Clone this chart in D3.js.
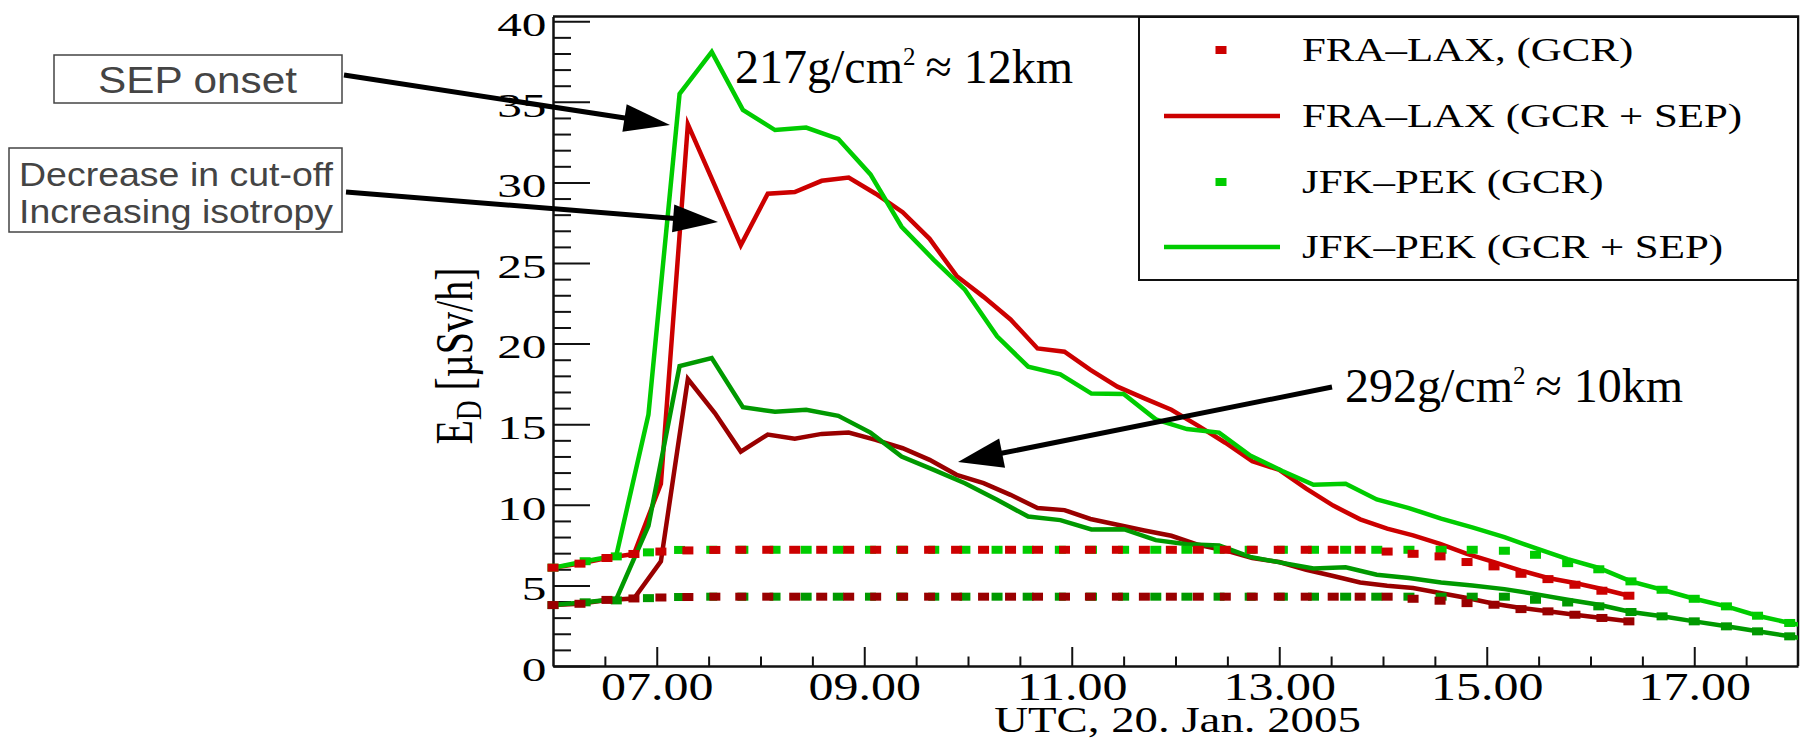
<!DOCTYPE html>
<html><head><meta charset="utf-8">
<script src="https://cdn.jsdelivr.net/npm/d3@7/dist/d3.min.js"></script>
<style>html,body{margin:0;padding:0;background:#fff;} svg{display:block;}</style>
</head><body>
<script>
// ---------------- DATA ----------------
const fraTimes = [6.00, 6.26, 6.52, 6.78, 7.04, 7.30, 7.56, 7.81, 8.07, 8.33, 8.59, 8.85, 9.11, 9.37, 9.63, 9.89, 10.15, 10.41, 10.67, 10.93, 11.18, 11.44, 11.70, 11.96, 12.22, 12.48, 12.74, 13.00, 13.26, 13.52, 13.78, 14.04, 14.29, 14.55, 14.81, 15.07, 15.33, 15.59, 15.85, 16.11, 16.37];
const fraGcr217 = [6.1, 6.35, 6.7, 6.95, 7.1, 7.17, 7.2, 7.21, 7.21, 7.21, 7.21, 7.21, 7.21, 7.21, 7.21, 7.21, 7.21, 7.21, 7.21, 7.21, 7.21, 7.21, 7.21, 7.21, 7.21, 7.21, 7.21, 7.21, 7.21, 7.21, 7.21, 7.1, 6.96, 6.8, 6.45, 6.18, 5.72, 5.39, 5.04, 4.67, 4.36];
const fraSep217 = [6.1, 6.35, 6.7, 6.95, 11.3, 33.6, 29.8, 26.1, 29.3, 29.4, 30.1, 30.3, 29.3, 28.15, 26.5, 24.2, 22.9, 21.5, 19.7, 19.5, 18.37, 17.33, 16.6, 15.9, 14.9, 13.85, 12.7, 12.17, 11.0, 9.95, 9.1, 8.52, 8.1, 7.57, 6.95, 6.45, 5.92, 5.46, 5.15, 4.78, 4.36];
const fraGcr292 = [3.78, 3.86, 4.1, 4.19, 4.25, 4.28, 4.3, 4.3, 4.3, 4.3, 4.3, 4.3, 4.3, 4.3, 4.3, 4.3, 4.3, 4.3, 4.3, 4.3, 4.3, 4.3, 4.3, 4.3, 4.3, 4.3, 4.3, 4.3, 4.3, 4.3, 4.3, 4.3, 4.17, 4.05, 3.9, 3.8, 3.53, 3.39, 3.18, 2.98, 2.77];
const fraSep292 = [3.78, 3.86, 4.1, 4.19, 6.49, 17.8, 15.69, 13.3, 14.36, 14.1, 14.4, 14.48, 14.03, 13.51, 12.79, 11.86, 11.34, 10.62, 9.8, 9.67, 9.12, 8.76, 8.41, 8.08, 7.52, 7.17, 6.7, 6.45, 5.97, 5.58, 5.18, 4.98, 4.84, 4.53, 4.22, 3.86, 3.6, 3.39, 3.18, 2.98, 2.77];

const jfkTimes = [6.00, 6.31, 6.61, 6.92, 7.22, 7.53, 7.83, 8.14, 8.44, 8.75, 9.06, 9.36, 9.67, 9.97, 10.28, 10.58, 10.89, 11.19, 11.50, 11.81, 12.11, 12.42, 12.72, 13.03, 13.33, 13.64, 13.94, 14.25, 14.56, 14.86, 15.17, 15.47, 15.78, 16.08, 16.39, 16.69, 17.00, 17.31, 17.61, 17.92, 18.22];
const jfkGcr217 = [6.1, 6.5, 6.8, 7.05, 7.2, 7.21, 7.21, 7.21, 7.21, 7.21, 7.21, 7.21, 7.21, 7.21, 7.21, 7.21, 7.21, 7.21, 7.21, 7.21, 7.21, 7.21, 7.21, 7.21, 7.21, 7.21, 7.21, 7.21, 7.21, 7.21, 7.15, 6.9, 6.38, 6.0, 5.25, 4.73, 4.17, 3.7, 3.12, 2.67, 2.3];
const jfkSep217 = [6.1, 6.5, 6.85, 15.6, 35.5, 38.1, 34.5, 33.25, 33.4, 32.7, 30.5, 27.25, 25.2, 23.35, 20.45, 18.57, 18.1, 16.9, 16.87, 15.3, 14.7, 14.48, 13.05, 12.1, 11.24, 11.3, 10.33, 9.8, 9.14, 8.6, 8.0, 7.31, 6.63, 6.08, 5.25, 4.73, 4.17, 3.7, 3.12, 2.67, 2.3];
const jfkGcr292 = [3.78, 3.95, 4.07, 4.21, 4.28, 4.3, 4.3, 4.3, 4.3, 4.3, 4.3, 4.3, 4.3, 4.3, 4.3, 4.3, 4.3, 4.3, 4.3, 4.3, 4.3, 4.3, 4.3, 4.3, 4.3, 4.3, 4.3, 4.3, 4.3, 4.3, 4.3, 4.11, 3.94, 3.7, 3.35, 3.08, 2.77, 2.46, 2.15, 1.84, 1.5];
const jfkSep292 = [3.78, 3.95, 4.15, 8.7, 18.6, 19.1, 16.05, 15.77, 15.89, 15.52, 14.48, 12.99, 12.17, 11.34, 10.31, 9.27, 9.05, 8.47, 8.49, 7.81, 7.55, 7.47, 6.77, 6.4, 6.05, 6.12, 5.66, 5.46, 5.18, 5.0, 4.77, 4.46, 4.11, 3.8, 3.35, 3.08, 2.77, 2.46, 2.15, 1.84, 1.5];

const xMajorTicks = [7, 9, 11, 13, 15, 17];
const xTickLabels = ["07.00", "09.00", "11.00", "13.00", "15.00", "17.00"];
const yMajorTicks = [0, 5, 10, 15, 20, 25, 30, 35, 40];
const yTickLabels = ["0", "5", "10", "15", "20", "25", "30", "35", "40"];
const legendLabels = ["FRA\u2013LAX, (GCR)", "FRA\u2013LAX (GCR + SEP)", "JFK\u2013PEK (GCR)", "JFK\u2013PEK (GCR + SEP)"];
const xTitle = "UTC, 20. Jan. 2005";

// ---------------- SETUP ----------------
const W = 1806, H = 740;
const SERIF = "'Liberation Serif', 'Times New Roman', serif";
const SANS = "'Liberation Sans', Arial, sans-serif";
const RED = "#cc0000", DRED = "#990000", GREEN = "#00cc00", DGREEN = "#009900";
const AX = "#111";

const svg = d3.select("body").append("svg").attr("width", W).attr("height", H);
svg.append("rect").attr("width", W).attr("height", H).attr("fill", "#fff");

const x = d3.scaleLinear().domain([6, 18]).range([553, 1798]);
const y = d3.scaleLinear().domain([0, 40.3]).range([666, 16.4]);

svg.append("clipPath").attr("id", "plot").append("rect")
  .attr("x", x(6)).attr("y", y(40.3)).attr("width", x(18) - x(6)).attr("height", y(0) - y(40.3));

// ---------------- AXES ----------------
const xMinor = d3.range(6.5, 18, 0.5).filter(t => !xMajorTicks.includes(t));
const yMinor = d3.range(1, 40.3, 1).filter(v => v % 5 !== 0);

const gxMinor = svg.append("g").attr("transform", `translate(0,${y(0)})`)
  .call(d3.axisBottom(x).tickValues(xMinor).tickSizeInner(-9.5).tickSizeOuter(0).tickFormat(""));
gxMinor.select(".domain").remove();
const gyMinor = svg.append("g").attr("transform", `translate(${x(6)},0)`)
  .call(d3.axisLeft(y).tickValues(yMinor).tickSizeInner(-18).tickSizeOuter(0).tickFormat(""));
gyMinor.select(".domain").remove();

const gx = svg.append("g").attr("transform", `translate(0,${y(0)})`)
  .call(d3.axisBottom(x).tickValues(xMajorTicks).tickSizeInner(-19).tickSizeOuter(0).tickPadding(6)
    .tickFormat((d, i) => xTickLabels[i]));
gx.selectAll("text").attr("font-family", SERIF).attr("font-size", 40).attr("fill", "#000")
  .attr("transform", "scale(1.25,1)");

const gy = svg.append("g").attr("transform", `translate(${x(6)},0)`)
  .call(d3.axisLeft(y).tickValues(yMajorTicks).tickSizeInner(-37).tickSizeOuter(0).tickPadding(4.5)
    .tickFormat((d, i) => yTickLabels[i]));
gy.selectAll("text").attr("font-family", SERIF).attr("font-size", 34).attr("fill", "#000")
  .attr("dy", "0.42em").attr("transform", "scale(1.45,1)");

[gx, gy, gxMinor, gyMinor].forEach(g => {
  g.selectAll("line").attr("stroke", AX).attr("stroke-width", 2);
  g.selectAll(".domain").attr("stroke", AX).attr("stroke-width", 2.5);
});

svg.append("path")
  .attr("d", `M${x(6)},${y(40.3)}H${x(18)}V${y(0)}`)
  .attr("fill", "none").attr("stroke", AX).attr("stroke-width", 2.5);

// axis titles
svg.append("text").attr("font-family", SERIF).attr("font-size", 36).attr("text-anchor", "middle")
  .attr("transform", `translate(${(x(6) + x(18)) / 2 + 2},732) scale(1.3,1)`).text(xTitle);

const yt = svg.append("text").attr("font-family", SERIF).attr("font-size", 40).attr("text-anchor", "middle")
  .attr("transform", `translate(472,356) scale(1.3,1) rotate(-90)`);
yt.append("tspan").text("E");
yt.append("tspan").attr("font-size", 27).attr("dy", 7).text("D");
yt.append("tspan").attr("dy", -7).text(" [\u00b5Sv/h]");

// ---------------- DATA MARKS ----------------
const plot = svg.append("g").attr("clip-path", "url(#plot)");
const line = d3.line().x(d => x(d[0])).y(d => y(d[1]));
const zipS = (ts, vs) => ts.map((t, i) => [t, vs[i]]);

const lineSeries = [
  { t: fraTimes, v: fraSep217, c: RED },
  { t: fraTimes, v: fraSep292, c: DRED },
  { t: jfkTimes, v: jfkSep217, c: GREEN },
  { t: jfkTimes, v: jfkSep292, c: DGREEN }
];
lineSeries.forEach(s => {
  plot.append("path").datum(zipS(s.t, s.v)).attr("d", line)
    .attr("fill", "none").attr("stroke", s.c).attr("stroke-width", 4.5)
    .attr("stroke-linejoin", "miter").attr("stroke-miterlimit", 10);
});

const markerSeries = [
  { t: jfkTimes, v: jfkGcr217, c: GREEN },
  { t: jfkTimes, v: jfkGcr292, c: DGREEN },
  { t: fraTimes, v: fraGcr217, c: RED },
  { t: fraTimes, v: fraGcr292, c: DRED }
];
const MW = 11, MH = 8;
markerSeries.forEach(s => {
  svg.append("g").selectAll("rect").data(zipS(s.t, s.v).filter(d => d[0] <= 18)).join("rect")
    .attr("x", d => x(d[0]) - MW / 2).attr("y", d => y(d[1]) - MH / 2)
    .attr("width", MW).attr("height", MH).attr("fill", s.c);
});

// ---------------- LEGEND ----------------
const lg = svg.append("g");
lg.append("rect").attr("x", 1139).attr("y", 17).attr("width", 659).attr("height", 263)
  .attr("fill", "#fff").attr("stroke", AX).attr("stroke-width", 2);
const legItems = [
  { type: "marker", c: RED, yy: 50 },
  { type: "line", c: RED, yy: 116 },
  { type: "marker", c: GREEN, yy: 182 },
  { type: "line", c: GREEN, yy: 247 }
];
legItems.forEach((it, i) => {
  if (it.type === "marker") {
    lg.append("rect").attr("x", 1221 - MW / 2).attr("y", it.yy - MH / 2).attr("width", MW).attr("height", MH).attr("fill", it.c);
  } else {
    lg.append("line").attr("x1", 1164).attr("x2", 1280).attr("y1", it.yy).attr("y2", it.yy)
      .attr("stroke", it.c).attr("stroke-width", 4.5);
  }
  lg.append("text").attr("font-family", SERIF).attr("font-size", 33).attr("fill", "#000")
    .attr("transform", `translate(1302,${it.yy + 10.5}) scale(1.3,1)`).text(legendLabels[i]);
});

// ---------------- ANNOTATIONS ----------------
function arrow(x1, y1, x2, y2, len, hw) {
  const dx = x2 - x1, dy = y2 - y1, L = Math.hypot(dx, dy);
  const ux = dx / L, uy = dy / L;
  const bx = x2 - ux * len, by = y2 - uy * len;
  svg.append("line").attr("x1", x1).attr("y1", y1).attr("x2", bx + ux * 2).attr("y2", by + uy * 2)
    .attr("stroke", "#000").attr("stroke-width", 5);
  svg.append("path").attr("d", `M${x2},${y2}L${bx - uy * hw},${by + ux * hw}L${bx + uy * hw},${by - ux * hw}Z`)
    .attr("fill", "#000");
}
arrow(344, 75, 670, 125, 46, 14);
arrow(346, 192, 718, 222, 45, 14);
arrow(1332, 387, 958, 462, 45, 15);

svg.append("rect").attr("x", 54).attr("y", 55).attr("width", 288).attr("height", 48)
  .attr("fill", "#fff").attr("stroke", "#444").attr("stroke-width", 1.5);
svg.append("text").attr("font-family", SANS).attr("font-size", 37).attr("fill", "#444")
  .attr("x", 98).attr("y", 93).attr("textLength", 199).attr("lengthAdjust", "spacingAndGlyphs").text("SEP onset");
svg.append("rect").attr("x", 9).attr("y", 148).attr("width", 333).attr("height", 84)
  .attr("fill", "#fff").attr("stroke", "#444").attr("stroke-width", 1.5);
svg.append("text").attr("font-family", SANS).attr("font-size", 33).attr("fill", "#444")
  .attr("x", 19).attr("y", 186).attr("textLength", 314).attr("lengthAdjust", "spacingAndGlyphs").text("Decrease in cut-off");
svg.append("text").attr("font-family", SANS).attr("font-size", 33).attr("fill", "#444")
  .attr("x", 19).attr("y", 223).attr("textLength", 314).attr("lengthAdjust", "spacingAndGlyphs").text("Increasing isotropy");

function depthLabel(xx, yy, a, b) {
  const t = svg.append("text").attr("font-family", SERIF).attr("font-size", 48).attr("fill", "#000")
    .attr("x", xx).attr("y", yy);
  t.append("tspan").text(a + "g/cm");
  t.append("tspan").attr("font-size", 25).attr("dy", -18).text("2");
  t.append("tspan").attr("dy", 18).attr("dx", 10).text("\u2248 " + b + "km");
}
depthLabel(735, 83, "217", "12");
depthLabel(1345, 402, "292", "10");
</script>
</body></html>
